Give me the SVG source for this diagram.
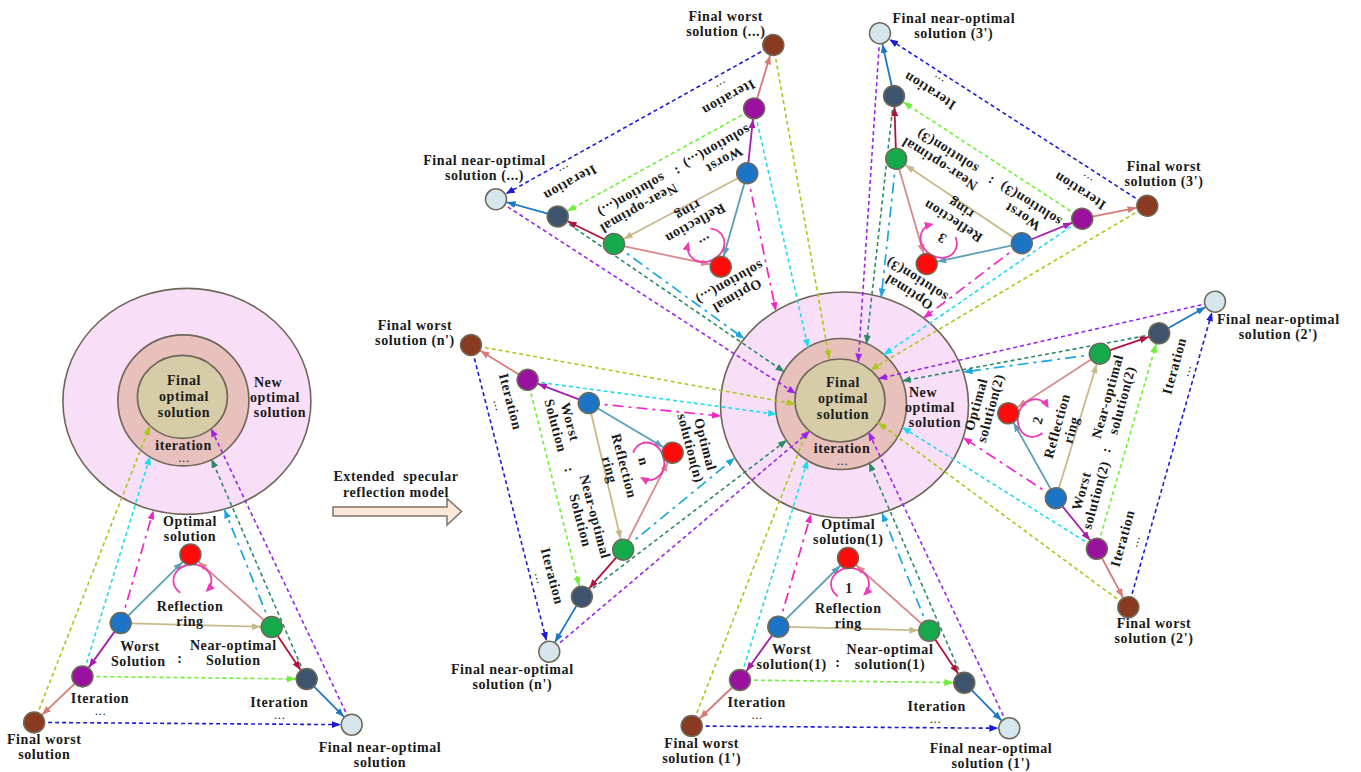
<svg xmlns="http://www.w3.org/2000/svg" width="1361" height="772" viewBox="0 0 1361 772">
<style>
.t{font-family:"Liberation Serif","Times New Roman",serif;font-weight:bold;font-size:14px;letter-spacing:0.6px;fill:#1a1a1a;text-anchor:middle}
.dots{font-size:9px;letter-spacing:1.6px}
.n{stroke:#6e6a58;stroke-width:1.5}
.ring{stroke:#6e6658;stroke-width:1.6}
.s{fill:none;stroke-width:1.8}
.d{fill:none;stroke-width:1.6;stroke-dasharray:4 3}
.dd{fill:none;stroke-width:1.7;stroke-dasharray:11 5 3 5}
.red{fill:#ff0a0a}.blu{fill:#1b74c5}.grn{fill:#14aa4c}.pur{fill:#9a109f}.sla{fill:#3e536d}.brn{fill:#8a3a20}.lgt{fill:#d5e6ec}
.yg{stroke:#a8c81e}.cy{stroke:#22dcee}.mg{stroke:#f226c8}.lb{stroke:#1aa6de}.tl{stroke:#2b8a68}.vi{stroke:#9b25ee}
</style>
<defs>
<marker id="mA1" markerUnits="userSpaceOnUse" markerWidth="9" markerHeight="7" refX="20" refY="3.5" orient="auto"><path d="M0,0L9,3.5L0,7z" fill="#5a9fb6"/></marker>
<marker id="mA2" markerUnits="userSpaceOnUse" markerWidth="9" markerHeight="7" refX="20" refY="3.5" orient="auto"><path d="M0,0L9,3.5L0,7z" fill="#d8898a"/></marker>
<marker id="mA3" markerUnits="userSpaceOnUse" markerWidth="9" markerHeight="7" refX="20" refY="3.5" orient="auto"><path d="M0,0L9,3.5L0,7z" fill="#c9b98a"/></marker>
<marker id="mA4" markerUnits="userSpaceOnUse" markerWidth="9" markerHeight="7" refX="20" refY="3.5" orient="auto"><path d="M0,0L9,3.5L0,7z" fill="#a31fb0"/></marker>
<marker id="mA5" markerUnits="userSpaceOnUse" markerWidth="9" markerHeight="7" refX="20" refY="3.5" orient="auto"><path d="M0,0L9,3.5L0,7z" fill="#b0123c"/></marker>
<marker id="mA6" markerUnits="userSpaceOnUse" markerWidth="9" markerHeight="7" refX="20" refY="3.5" orient="auto"><path d="M0,0L9,3.5L0,7z" fill="#d67a74"/></marker>
<marker id="mA7" markerUnits="userSpaceOnUse" markerWidth="9" markerHeight="7" refX="20" refY="3.5" orient="auto"><path d="M0,0L9,3.5L0,7z" fill="#1d78c4"/></marker>
<marker id="mA8" markerUnits="userSpaceOnUse" markerWidth="9" markerHeight="7" refX="20" refY="3.5" orient="auto"><path d="M0,0L9,3.5L0,7z" fill="#6cf236"/></marker>
<marker id="mA9" markerUnits="userSpaceOnUse" markerWidth="9" markerHeight="7" refX="20" refY="3.5" orient="auto"><path d="M0,0L9,3.5L0,7z" fill="#1b1bd6"/></marker>
<marker id="mB1" markerUnits="userSpaceOnUse" markerWidth="9" markerHeight="7" refX="9" refY="3.5" orient="auto"><path d="M0,0L9,3.5L0,7z" fill="#a8c81e"/></marker>
<marker id="mB2" markerUnits="userSpaceOnUse" markerWidth="9" markerHeight="7" refX="9" refY="3.5" orient="auto"><path d="M0,0L9,3.5L0,7z" fill="#22dcee"/></marker>
<marker id="mB3" markerUnits="userSpaceOnUse" markerWidth="9" markerHeight="7" refX="9" refY="3.5" orient="auto"><path d="M0,0L9,3.5L0,7z" fill="#f226c8"/></marker>
<marker id="mB4" markerUnits="userSpaceOnUse" markerWidth="9" markerHeight="7" refX="9" refY="3.5" orient="auto"><path d="M0,0L9,3.5L0,7z" fill="#1aa6de"/></marker>
<marker id="mB5" markerUnits="userSpaceOnUse" markerWidth="9" markerHeight="7" refX="9" refY="3.5" orient="auto"><path d="M0,0L9,3.5L0,7z" fill="#2b8a68"/></marker>
<marker id="mB6" markerUnits="userSpaceOnUse" markerWidth="9" markerHeight="7" refX="9" refY="3.5" orient="auto"><path d="M0,0L9,3.5L0,7z" fill="#9b25ee"/></marker>
<marker id="mR" markerUnits="userSpaceOnUse" markerWidth="9" markerHeight="8" refX="7" refY="4" orient="auto"><path d="M0,0L9,4L0,8z" fill="#f03cb4"/></marker>
<g id="links">
<line class="s" x1="778.3" y1="626.7" x2="848" y2="558" stroke="#5a9fb6" marker-end="url(#mA1)"/>
<line class="s" x1="929.3" y1="630.7" x2="848" y2="558" stroke="#d8898a" marker-end="url(#mA2)"/>
<line class="s" x1="778.3" y1="626.7" x2="929.3" y2="630.7" stroke="#c9b98a" marker-end="url(#mA3)"/>
<line class="s" x1="778.3" y1="626.7" x2="740" y2="680" stroke="#a31fb0" marker-end="url(#mA4)"/>
<line class="s" x1="929.3" y1="630.7" x2="964.3" y2="682.7" stroke="#b0123c" marker-end="url(#mA5)"/>
<line class="s" x1="740" y1="680" x2="691.7" y2="726" stroke="#d67a74" marker-end="url(#mA6)"/>
<line class="s" x1="964.3" y1="682.7" x2="1009.3" y2="728.3" stroke="#1d78c4" marker-end="url(#mA7)"/>
<line class="d" x1="740" y1="680" x2="964.3" y2="682.7" stroke="#6cf236" marker-end="url(#mA8)"/>
<line class="d" x1="691.7" y1="726" x2="1009.3" y2="728.3" stroke="#1b1bd6" marker-end="url(#mA9)"/>
<path d="M837.8,596.3 A19,16 0 1 1 864.6,594.3" fill="none" stroke="#f03cb4" stroke-width="1.8" marker-end="url(#mR)"/>
</g>
<g id="hublinks1">
<line class="d yg" x1="691.7" y1="726" x2="807.5" y2="429.5" marker-end="url(#mB1)"/>
<line class="d cy" x1="740" y1="680" x2="807.8" y2="459.8" marker-end="url(#mB2)"/>
<line class="dd mg" x1="778.3" y1="626.7" x2="811" y2="514" marker-end="url(#mB3)"/>
<line class="dd lb" x1="929.3" y1="630.7" x2="882" y2="513" marker-end="url(#mB4)"/>
<line class="d tl" x1="964.3" y1="682.7" x2="869" y2="462.5" marker-end="url(#mB5)"/>
<line class="d vi" x1="1009.3" y1="728.3" x2="868.4" y2="431.8" marker-end="url(#mB6)"/>
</g>
</defs>

<!-- ===== Left: single specular reflection model ===== -->
<g id="left-model" transform="translate(-657.6,-3.6)">
  <g id="L-new-optimal"><ellipse class="ring" cx="844.5" cy="405" rx="124" ry="113" fill="#f8def6"/></g>
  <g id="L-iteration"><circle class="ring" cx="841" cy="404" r="65.5" fill="#e8c0bc"/></g>
  <g id="L-final-optimal"><ellipse class="ring" cx="840" cy="400.5" rx="45" ry="41.5" fill="#d6cda8"/></g>
  <g id="L-connectors"><use href="#hublinks1"/><use href="#links"/></g>
  <g id="L-optimal"><circle class="n red" cx="848" cy="558" r="10.5"/></g>
  <g id="L-worst"><circle class="n blu" cx="778.3" cy="626.7" r="10.5"/></g>
  <g id="L-nearopt"><circle class="n grn" cx="929.3" cy="630.7" r="10.5"/></g>
  <g id="L-iter-worst"><circle class="n pur" cx="740" cy="680" r="10.5"/></g>
  <g id="L-iter-near"><circle class="n sla" cx="964.3" cy="682.7" r="10.5"/></g>
  <g id="L-final-worst"><circle class="n brn" cx="691.7" cy="726" r="10.5"/></g>
  <g id="L-final-near"><circle class="n lgt" cx="1009.3" cy="728.3" r="10.5"/></g>
</g>
<g id="left-labels">
<text class="t" x="184" y="385">Final</text>
<text class="t" x="184" y="400.7">optimal</text>
<text class="t" x="184" y="416.7">solution</text>
<text class="t" x="268" y="386.7">New</text>
<text class="t" x="275" y="401.7">optimal</text>
<text class="t" x="280" y="416.7">solution</text>
<text class="t" x="183.5" y="450">iteration</text>
<text class="t dots" x="184.5" y="461.8">...</text>
<text class="t" x="190" y="526">Optimal</text>
<text class="t" x="190" y="541">solution</text>
<text class="t" x="190" y="610.5">Reflection</text>
<text class="t" x="190" y="625.5">ring</text>
<text class="t" x="140" y="651">Worst</text>
<text class="t" x="138.3" y="666">Solution</text>
<text class="t" x="180" y="663">:</text>
<text class="t" x="233.3" y="650">Near-optimal</text>
<text class="t" x="233.3" y="665">Solution</text>
<text class="t" x="100" y="703.3">Iteration</text>
<text class="t dots" x="101" y="715.1">...</text>
<text class="t" x="279.3" y="706.7">Iteration</text>
<text class="t dots" x="280.3" y="718.5">...</text>
<text class="t" x="44.3" y="744">Final worst</text>
<text class="t" x="44.3" y="759">solution</text>
<text class="t" x="380" y="752.2">Final near-optimal</text>
<text class="t" x="380" y="767.2">solution</text>
</g>

<!-- ===== Extended arrow ===== -->
<g id="extend-arrow">
<polygon points="333,507 447,507 447,498.5 461.5,511.5 447,525 447,516 333,516" fill="#fbe8da" stroke="#7d7468" stroke-width="1.5"/>
<text class="t" x="396" y="480.5" xml:space="preserve">Extended  specular</text>
<text class="t" x="396" y="496.5">reflection model</text>
</g>

<!-- ===== Center hub ===== -->
<g id="hub-new-optimal"><ellipse class="ring" cx="844.5" cy="405" rx="124" ry="113" fill="#f8def6"/></g>
<g id="hub-iteration"><circle class="ring" cx="841" cy="404" r="65.5" fill="#e8c0bc"/></g>
<g id="hub-final-optimal"><ellipse class="ring" cx="840" cy="400.5" rx="45" ry="41.5" fill="#d6cda8"/></g>

<g id="hub-connectors">
<use href="#hublinks1"/>
<!-- branch n -->
<line class="d yg" x1="471" y1="345" x2="795.5" y2="404" marker-end="url(#mB1)"/>
<line class="d cy" x1="527.3" y1="380.7" x2="777" y2="414.3" marker-end="url(#mB2)"/>
<line class="dd mg" x1="588.7" y1="403.1" x2="721" y2="416" marker-end="url(#mB3)"/>
<line class="dd lb" x1="623.2" y1="549.6" x2="734.8" y2="457.8" marker-end="url(#mB4)"/>
<line class="d tl" x1="581.9" y1="596.7" x2="787" y2="440" marker-end="url(#mB5)"/>
<line class="d vi" x1="549.3" y1="651.7" x2="810" y2="431" marker-end="url(#mB6)"/>
<!-- branch 2 -->
<line class="d yg" x1="1128.3" y1="607.2" x2="878" y2="422.5" marker-end="url(#mB1)"/>
<line class="d cy" x1="1096.9" y1="548.8" x2="901.8" y2="427" marker-end="url(#mB2)"/>
<line class="dd mg" x1="1055.8" y1="498.2" x2="963" y2="437.5" marker-end="url(#mB3)"/>
<line class="dd lb" x1="1099.8" y1="353.7" x2="963.5" y2="372" marker-end="url(#mB4)"/>
<line class="d tl" x1="1159" y1="333.3" x2="902" y2="381" marker-end="url(#mB5)"/>
<line class="d vi" x1="1215" y1="301.7" x2="878.2" y2="378.7" marker-end="url(#mB6)"/>
<!-- branch 3 -->
<line class="d yg" x1="1147.3" y1="205.7" x2="870.3" y2="370.1" marker-end="url(#mB1)"/>
<line class="d cy" x1="1082.2" y1="218.7" x2="883.5" y2="355" marker-end="url(#mB2)"/>
<line class="dd mg" x1="1021.8" y1="243.3" x2="923.4" y2="318.3" marker-end="url(#mB3)"/>
<line class="dd lb" x1="896.2" y1="158.8" x2="881.2" y2="297.5" marker-end="url(#mB4)"/>
<line class="d tl" x1="894" y1="96" x2="866.4" y2="344.2" marker-end="url(#mB5)"/>
<line class="d vi" x1="880" y1="33.3" x2="858.2" y2="362.5" marker-end="url(#mB6)"/>
<!-- branch ... -->
<line class="d yg" x1="773.3" y1="45" x2="829.4" y2="359.3" marker-end="url(#mB1)"/>
<line class="d cy" x1="754.1" y1="108.4" x2="808.2" y2="347.9" marker-end="url(#mB2)"/>
<line class="dd mg" x1="747.2" y1="173.2" x2="775.9" y2="311" marker-end="url(#mB3)"/>
<line class="dd lb" x1="614" y1="244.1" x2="744.3" y2="338.8" marker-end="url(#mB4)"/>
<line class="d tl" x1="557.7" y1="216.5" x2="784.5" y2="372" marker-end="url(#mB5)"/>
<line class="d vi" x1="496" y1="199.3" x2="796" y2="393.8" marker-end="url(#mB6)"/>
</g>

<g id="hub-labels">
<text class="t" x="843" y="387.3">Final</text>
<text class="t" x="843" y="403.3">optimal</text>
<text class="t" x="843" y="419">solution</text>
<text class="t" x="923" y="396.5">New</text>
<text class="t" x="930" y="411.5">optimal</text>
<text class="t" x="935" y="426.5">solution</text>
<text class="t" x="842" y="453.3">iteration</text>
<text class="t dots" x="843" y="465.1">...</text>
</g>

<!-- ===== Branch 1 (bottom) ===== -->
<g id="branch-1">
  <g class="connectors"><use href="#links"/></g>
  <g id="b1-optimal"><circle class="n red" cx="848" cy="558" r="10.5"/></g>
  <g id="b1-worst"><circle class="n blu" cx="778.3" cy="626.7" r="10.5"/></g>
  <g id="b1-nearopt"><circle class="n grn" cx="929.3" cy="630.7" r="10.5"/></g>
  <g id="b1-iter-worst"><circle class="n pur" cx="740" cy="680" r="10.5"/></g>
  <g id="b1-iter-near"><circle class="n sla" cx="964.3" cy="682.7" r="10.5"/></g>
  <g id="b1-final-worst"><circle class="n brn" cx="691.7" cy="726" r="10.5"/></g>
  <g id="b1-final-near"><circle class="n lgt" cx="1009.3" cy="728.3" r="10.5"/></g>
  <text class="t" x="848.3" y="529">Optimal</text>
  <text class="t" x="848.3" y="544">solution(1)</text>
  <text class="t" x="849" y="593">1</text>
  <text class="t" x="848.3" y="613">Reflection</text>
  <text class="t" x="848.3" y="628">ring</text>
  <text class="t" x="791.7" y="654.2">Worst</text>
  <text class="t" x="791.7" y="669.2">solution(1)</text>
  <text class="t" x="838" y="667">:</text>
  <text class="t" x="890" y="654.2">Near-optimal</text>
  <text class="t" x="890" y="669.2">solution(1)</text>
  <text class="t" x="756.7" y="706.7">Iteration</text>
  <text class="t dots" x="757.7" y="718.5">...</text>
  <text class="t" x="936.7" y="710.7">Iteration</text>
  <text class="t dots" x="936" y="722.5">...</text>
</g>

<!-- ===== Branch n (left) ===== -->
<g id="branch-n" transform="matrix(0.2535 0.9638 -0.9647 0.2556 996.02 -507.23)">
  <g class="connectors"><use href="#links"/></g>
  <g id="bn-optimal"><circle class="n red" cx="848" cy="558" r="10.5"/></g>
  <g id="bn-worst"><circle class="n blu" cx="778.3" cy="626.7" r="10.5"/></g>
  <g id="bn-nearopt"><circle class="n grn" cx="929.3" cy="630.7" r="10.5"/></g>
  <g id="bn-iter-worst"><circle class="n pur" cx="740" cy="680" r="10.5"/></g>
  <g id="bn-iter-near"><circle class="n sla" cx="964.3" cy="682.7" r="10.5"/></g>
  <g id="bn-final-worst"><circle class="n brn" cx="691.7" cy="726" r="10.5"/></g>
  <g id="bn-final-near"><circle class="n lgt" cx="1009.3" cy="728.3" r="10.5"/></g>
  <text class="t" x="848.3" y="529">Optimal</text>
  <text class="t" x="848.3" y="544">solution(n)</text>
  <text class="t" x="849" y="593">n</text>
  <text class="t" x="848.3" y="613">Reflection</text>
  <text class="t" x="848.3" y="628">ring</text>
  <text class="t" x="791.7" y="654.2">Worst</text>
  <text class="t" x="791.7" y="669.2">Solution</text>
  <text class="t" x="838" y="667">:</text>
  <text class="t" x="890" y="654.2">Near-optimal</text>
  <text class="t" x="890" y="669.2">Solution</text>
  <text class="t" x="756.7" y="706.7">Iteration</text>
  <text class="t dots" x="757.7" y="718.5">...</text>
  <text class="t" x="936.7" y="710.7">Iteration</text>
  <text class="t dots" x="936" y="722.5">...</text>
</g>

<!-- ===== Branch 2 (right) ===== -->
<g id="branch-2" transform="matrix(0.2660 -0.9638 0.9618 0.2575 246.04 1086.91)">
  <g class="connectors"><use href="#links"/></g>
  <g id="b2-optimal"><circle class="n red" cx="848" cy="558" r="10.5"/></g>
  <g id="b2-worst"><circle class="n blu" cx="778.3" cy="626.7" r="10.5"/></g>
  <g id="b2-nearopt"><circle class="n grn" cx="929.3" cy="630.7" r="10.5"/></g>
  <g id="b2-iter-worst"><circle class="n pur" cx="740" cy="680" r="10.5"/></g>
  <g id="b2-iter-near"><circle class="n sla" cx="964.3" cy="682.7" r="10.5"/></g>
  <g id="b2-final-worst"><circle class="n brn" cx="691.7" cy="726" r="10.5"/></g>
  <g id="b2-final-near"><circle class="n lgt" cx="1009.3" cy="728.3" r="10.5"/></g>
  <text class="t" x="848.3" y="529">Optimal</text>
  <text class="t" x="848.3" y="544">solution(2)</text>
  <text class="t" x="849" y="593">2</text>
  <text class="t" x="848.3" y="613">Reflection</text>
  <text class="t" x="848.3" y="628">ring</text>
  <text class="t" x="791.7" y="654.2">Worst</text>
  <text class="t" x="791.7" y="669.2">solution(2)</text>
  <text class="t" x="838" y="667">:</text>
  <text class="t" x="890" y="654.2">Near-optimal</text>
  <text class="t" x="890" y="669.2">solution(2)</text>
  <text class="t" x="756.7" y="706.7">Iteration</text>
  <text class="t dots" x="757.7" y="718.5">...</text>
  <text class="t" x="936.7" y="710.7">Iteration</text>
  <text class="t dots" x="936" y="722.5">...</text>
</g>

<!-- ===== Branch 3 (top right) ===== -->
<g id="branch-3" transform="matrix(-0.8455 -0.5367 0.5266 -0.8463 1349.82 1191.34)">
  <g class="connectors"><use href="#links"/></g>
  <g id="b3-optimal"><circle class="n red" cx="848" cy="558" r="10.5"/></g>
  <g id="b3-worst"><circle class="n blu" cx="778.3" cy="626.7" r="10.5"/></g>
  <g id="b3-nearopt"><circle class="n grn" cx="929.3" cy="630.7" r="10.5"/></g>
  <g id="b3-iter-worst"><circle class="n pur" cx="740" cy="680" r="10.5"/></g>
  <g id="b3-iter-near"><circle class="n sla" cx="964.3" cy="682.7" r="10.5"/></g>
  <g id="b3-final-worst"><circle class="n brn" cx="691.7" cy="726" r="10.5"/></g>
  <g id="b3-final-near"><circle class="n lgt" cx="1009.3" cy="728.3" r="10.5"/></g>
  <text class="t" x="848.3" y="529">Optimal</text>
  <text class="t" x="848.3" y="544">solution(3)</text>
  <text class="t" x="849" y="593">3</text>
  <text class="t" x="848.3" y="613">Reflection</text>
  <text class="t" x="848.3" y="628">ring</text>
  <text class="t" x="791.7" y="654.2">Worst</text>
  <text class="t" x="791.7" y="669.2">solution(3)</text>
  <text class="t" x="838" y="667">:</text>
  <text class="t" x="890" y="654.2">Near-optimal</text>
  <text class="t" x="890" y="669.2">solution(3)</text>
  <text class="t" x="756.7" y="706.7">Iteration</text>
  <text class="t dots" x="757.7" y="718.5">...</text>
  <text class="t" x="936.7" y="710.7">Iteration</text>
  <text class="t dots" x="936" y="722.5">...</text>
</g>

<!-- ===== Branch ... (top left) ===== -->
<g id="branch-etc" transform="matrix(-0.8695 0.4921 -0.4959 -0.8619 1734.75 330.35)">
  <g class="connectors"><use href="#links"/></g>
  <g id="be-optimal"><circle class="n red" cx="848" cy="558" r="10.5"/></g>
  <g id="be-worst"><circle class="n blu" cx="778.3" cy="626.7" r="10.5"/></g>
  <g id="be-nearopt"><circle class="n grn" cx="929.3" cy="630.7" r="10.5"/></g>
  <g id="be-iter-worst"><circle class="n pur" cx="740" cy="680" r="10.5"/></g>
  <g id="be-iter-near"><circle class="n sla" cx="964.3" cy="682.7" r="10.5"/></g>
  <g id="be-final-worst"><circle class="n brn" cx="691.7" cy="726" r="10.5"/></g>
  <g id="be-final-near"><circle class="n lgt" cx="1009.3" cy="728.3" r="10.5"/></g>
  <text class="t" x="848.3" y="529">Optimal</text>
  <text class="t" x="848.3" y="544">solution(...)</text>
  <text class="t" x="849" y="591">...</text>
  <text class="t" x="848.3" y="613">Reflection</text>
  <text class="t" x="848.3" y="628">ring</text>
  <text class="t" x="791.7" y="654.2">Worst</text>
  <text class="t" x="791.7" y="669.2">solution(...)</text>
  <text class="t" x="838" y="667">:</text>
  <text class="t" x="890" y="654.2">Near-optimal</text>
  <text class="t" x="890" y="669.2">solution(...)</text>
  <text class="t" x="756.7" y="706.7">Iteration</text>
  <text class="t dots" x="757.7" y="718.5">...</text>
  <text class="t" x="936.7" y="710.7">Iteration</text>
  <text class="t dots" x="936" y="722.5">...</text>
</g>

<!-- ===== Horizontal final labels ===== -->
<g id="final-labels">
<text class="t" x="701.7" y="748">Final worst</text>
<text class="t" x="701.7" y="763">solution (1')</text>
<text class="t" x="991" y="753">Final near-optimal</text>
<text class="t" x="991" y="768">solution (1')</text>
<text class="t" x="415" y="330">Final worst</text>
<text class="t" x="415" y="345">solution (n')</text>
<text class="t" x="512.3" y="674">Final near-optimal</text>
<text class="t" x="512.3" y="689">solution (n')</text>
<text class="t" x="1278.3" y="324">Final near-optimal</text>
<text class="t" x="1278.3" y="339">solution (2')</text>
<text class="t" x="1154" y="628.3">Final worst</text>
<text class="t" x="1154" y="643.3">solution (2')</text>
<text class="t" x="953.8" y="23">Final near-optimal</text>
<text class="t" x="953.8" y="38">solution (3')</text>
<text class="t" x="1164" y="171">Final worst</text>
<text class="t" x="1164" y="186">solution (3')</text>
<text class="t" x="725.8" y="20.5">Final worst</text>
<text class="t" x="725.8" y="35.5">solution (...)</text>
<text class="t" x="484.5" y="165">Final near-optimal</text>
<text class="t" x="484.5" y="180">solution (...)</text>
</g>
</svg>
